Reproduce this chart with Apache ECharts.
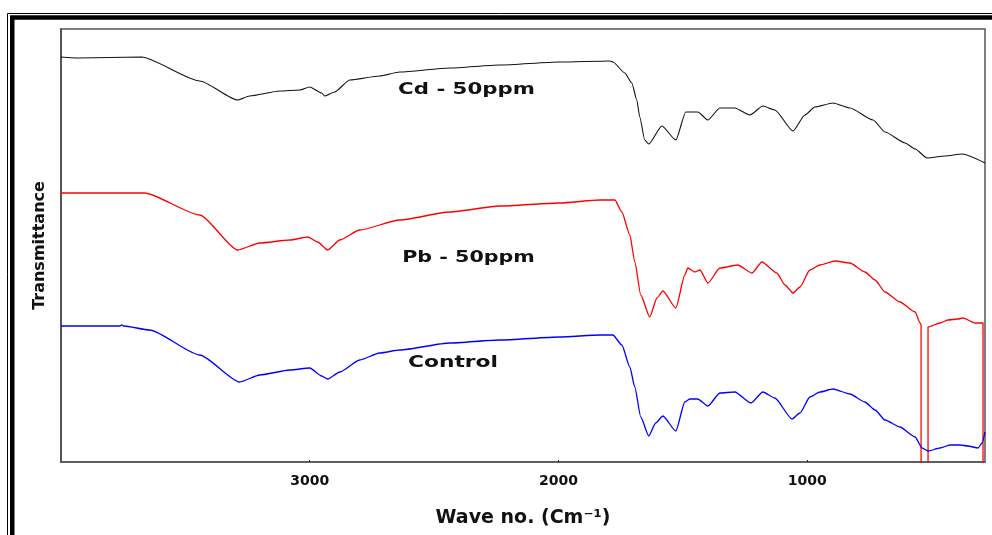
<!DOCTYPE html>
<html>
<head>
<meta charset="utf-8">
<script src="https://cdn.jsdelivr.net/npm/echarts@6/dist/echarts.min.js"></script>
<style>
html,body{margin:0;padding:0;background:#fff;}
#c{width:992px;height:535px;}
</style>
</head>
<body>
<div id="c"></div>
<script>
// x: wavenumber (cm^-1), y: transmittance (arbitrary units, offset stacked)
var xTicks = [1000, 2000, 3000];

var cdWave = [4000,3933,3676,3442,3290,3242,3121,3040,3000,2952,2940,2900,2839,2719,2638,2437,2236,1995,1793,1781,1733,1705,1685,1673,1653,1637,1584,1528,1488,1440,1399,1351,1291,1230,1178,1130,1057,1009,969,896,828,735,687,606,566,518,446,377,285];
var cdT    = [405,404,405,381,362,366,371,372,375,369,366,370,382,386,390,394,397,400,401,400,389,379,362,345,322,318,336,322,350,350,342,354,354,347,356,352,331,347,355,359,354,342,330,319,313,304,306,308,299];

var pbWave = [4000,3664,3442,3290,3201,3080,3008,2968,2928,2879,2799,2638,2437,2236,1995,1834,1773,1745,1713,1693,1669,1633,1604,1580,1528,1492,1480,1452,1431,1399,1351,1279,1222,1182,1122,1089,1057,1029,989,949,888,828,768,727,687,627,566,546,542,542,514,514,466,434,394,373,325,297,293,293];
var pbT    = [269,269,247,212,219,222,225,220,212,222,232,242,250,256,259,262,262,250,227,200,167,145,164,171,154,187,194,190,192,179,194,197,189,200,189,177,169,175,192,197,201,199,190,182,170,160,150,139,137,-40,-40,135,139,142,143,144,139,139,139,-40];

var ctrlWave = [4000,3764,3756,3748,3644,3442,3282,3201,3080,3000,2952,2928,2879,2799,2719,2638,2437,2236,1995,1834,1781,1745,1713,1693,1669,1637,1609,1580,1528,1492,1472,1440,1399,1351,1291,1226,1178,1130,1061,1029,989,949,896,828,768,727,687,627,566,538,514,466,426,385,353,313,297,285];
var ctrlT    = [136,136,137,136,132,107,80,87,92,94,86,83,90,102,109,112,119,122,125,127,127,117,95,75,45,26,39,46,31,60,63,63,56,69,70,59,70,64,43,49,65,70,73,68,60,52,42,35,25,14,11,14,17,17,16,14,19,30];

var seriesNames = ['Cd - 50ppm', 'Pb - 50ppm', 'Control'];
var seriesColors = ['#111111', '#ff0000', '#0000ff'];

function pairs(xs, ys){ return xs.map(function(x,i){ return [x, ys[i]]; }); }

var chart = echarts.init(document.getElementById('c'), null, {renderer:'canvas'});
var bold = {fontFamily:'DejaVu Sans', fontWeight:'bold', color:'#111'};

chart.setOption({
  animation:false,
  backgroundColor:'#fff',
  grid:{left:61, top:29, right:7, bottom:73, show:true, borderColor:'#555', borderWidth:1.5, backgroundColor:'transparent'},
  xAxis:{
    type:'value', inverse:true, min:285, max:4000,
    name:'Wave no. (Cm\u207B\u00B9)', nameLocation:'middle', nameGap:47,
    nameTextStyle:Object.assign({fontSize:19}, bold),
    axisLine:{show:true, lineStyle:{color:'#555', width:1.5}},
    axisTick:{show:true, inside:true, length:2, lineStyle:{color:'#222'}, customValues:xTicks},
    axisLabel:Object.assign({fontSize:14, margin:12, customValues:xTicks, formatter:function(v){ return String(v); }}, bold),
    splitLine:{show:false}
  },
  yAxis:{
    type:'value', min:0, max:433,
    name:'Transmittance', nameLocation:'middle', nameGap:13,
    nameTextStyle:Object.assign({fontSize:16}, bold),
    axisLine:{show:true, lineStyle:{color:'#555', width:2}},
    axisTick:{show:false}, axisLabel:{show:false}, splitLine:{show:false}
  },
  graphic:[
    {type:'rect', silent:true, shape:{x:7.5, y:13.5, width:1200, height:1000}, style:{fill:'none', stroke:'#000', lineWidth:1}},
    {type:'rect', silent:true, shape:{x:12.25, y:17.5, width:1200, height:1000}, style:{fill:'none', stroke:'#000', lineWidth:4.5}},
    {type:'text', silent:true, x:466.5, y:90, scaleX:1.33, style:{text:seriesNames[0], font:'bold 16px "DejaVu Sans"', fill:'#111', textAlign:'center', textVerticalAlign:'middle'}},
    {type:'text', silent:true, x:468.5, y:257.5, scaleX:1.29, style:{text:seriesNames[1], font:'bold 16px "DejaVu Sans"', fill:'#111', textAlign:'center', textVerticalAlign:'middle'}},
    {type:'text', silent:true, x:453, y:362.5, scaleX:1.36, style:{text:seriesNames[2], font:'bold 16px "DejaVu Sans"', fill:'#111', textAlign:'center', textVerticalAlign:'middle'}}
  ],
  series:[
    {name:seriesNames[0], type:'line', data:pairs(cdWave, cdT), showSymbol:false, smooth:0.2, smoothMonotone:'x', lineStyle:{color:seriesColors[0], width:1.1}, itemStyle:{color:seriesColors[0]}},
    {name:seriesNames[1], type:'line', data:pairs(pbWave, pbT), showSymbol:false, smooth:0.2, smoothMonotone:'x', clip:true, lineStyle:{color:seriesColors[1], width:1.3}, itemStyle:{color:seriesColors[1]}},
    {name:seriesNames[2], type:'line', data:pairs(ctrlWave, ctrlT), showSymbol:false, smooth:0.2, smoothMonotone:'x', lineStyle:{color:seriesColors[2], width:1.3}, itemStyle:{color:seriesColors[2]}}
  ]
});
</script>
</body>
</html>
